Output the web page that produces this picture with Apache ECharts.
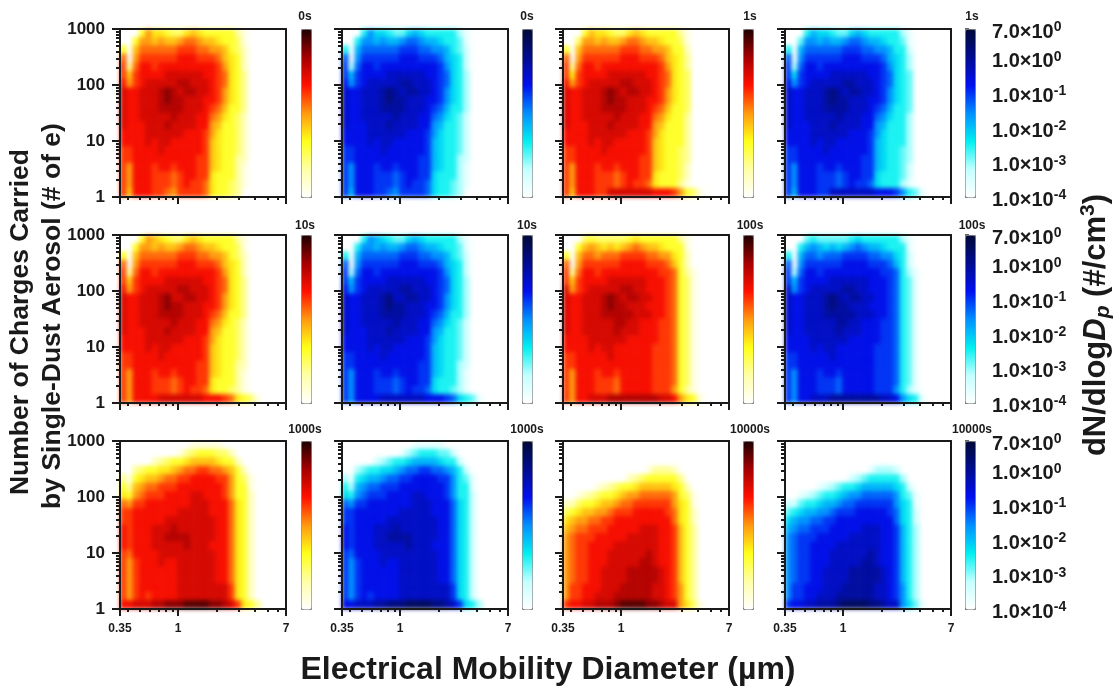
<!DOCTYPE html>
<html><head><meta charset="utf-8">
<style>html,body{margin:0;padding:0;background:#fff}#c{width:1119px;height:692px}
#c canvas[data-zr-dom-id="zr_1"]{filter:blur(2px)}</style>
<script src="https://cdn.jsdelivr.net/npm/echarts@6/dist/echarts.min.js"></script>
</head><body><div id="c"></div>
<script>
// Bin edges (diameter in um, charges)
const diameterEdges=[.35,.393,.441,.495,.555,.623,.699,.784,.880,.987,1.108,1.243,1.395,1.565,1.756,1.971,2.211,2.481,2.784,3.124,3.505,3.933,4.413,4.952,5.557,6.238,7];
const chargeEdges=[1000,707.9,501.2,354.8,251.2,177.8,125.9,89.13,63.1,44.67,31.62,22.39,15.85,11.22,7.943,5.623,3.981,2.818,1.995,1.413,1];
// Each character is a level: 0 = empty, else log10(dN/dlogDp) = -4 + 0.3*level (base 17)
const t0=["00058665446765555531","00588787789987765541","507999999aaa99887542","908aaaaaabbbaaa97652","a39bbabbbbbbbbba8652","a7abbbbccccccbba9653","b8abcccccddcccba9653","cbbcccdedcddccba8653","cbbcccdeddcccbba8653","cbbcccddddcccba97553","cbbcccccdcccbb986542","cbbbcccdccccbb875542","bbbbccccccbbba865542","bbbbcbccbbbbba765542","aabbbbcbbbbbba765542","aabbbbbbbbbbaa765532","a8bbbabbabbbaa765531","a8bbbaaa9abbaa655531","a8bbbaaa9abaa9655431","a7bbbaa98aaaa9655430"];
const t1=["00057665446765555531","00488787789987765541","507999999aaa99887552","908aaaaaabbbaaa97653","a39bbabbbbbbbbba8653","a6abbbbccccccbba9654","b8abcccccddcccba9654","cbbcccdedcddccba8654","cbbcccdeddcccbba8654","cbbcccddddcccba97554","cbbcccccdcccbb986553","cbbbcccdccccbb875553","bbbbccccccbbba865553","bbbbcbccbbbbba765553","aabbbbcbbbbbba765543","aabbbbbbbbbbaa765543","a8bbbabbabbbaa765542","a8bbbaaa9abbaa655542","a8bbbaaa9abaa9655531","a7bbbaacccccccbbba8541"];
const t10=["00058765446765555531","00588787789987765541","507999999aaa99887542","908aaaaaabbbaaa97652","a39bbabbbbbbbbba8652","a7abbbbccccccbba9653","b8abcccccddcccba9653","cbbcccdeccddccba8653","cbbcccdeddcccbba8653","cbbcccddddcccba97553","cbbcccccdcccbb986542","cbbbcccdccccbb875542","bbbbccccccbbba865542","bbbbcbccbbbbba765542","aabbbbcbbbbbba765542","aabbbbbbbbbbaa765532","a8bbbabbabbbaa765531","a8bbbaaa9abbaa655531","a8bbbaaa9abaa9655431","a8bbbbcccccccbbba96541"];
const t100=["00045444445655555531","00578767678987765551","507998999aaaa9988652","908aaaaaabbbbaaa9752","a39bbabbbbbbbbbaa9531","a7abbbbccccccbbba9541","c8abcccccddccbbba9541","cbbcccdedcddccbba9541","cbbcccdeddcccbbba9541","cbbcccdddddcccbba9541","cbbcccccddccbbbaa9541","cbbcccccdcccbbbaa9541","bbbbccccccbbbbbaa9541","bbbbcbccbbbbbbaaa9541","aabbbbbcbbbbbbaaa9541","aabbbbbbbbbbbbaaa9541","a8bbbabbabbbbbaaa9541","a8bbbaaa9bbbbbaaa9541","a8bbbaaa9bbbbbaaa8531","a8bbcccddddddddccb8651"];
const t1000=["00000000000111110","000000000134555442","0000023455677776552","003455667899aa998752","315677899aabbbbaa8541","537899aaabbbbbbba8551","6589aaabbbbccbbba8552","98aabbbbbbbcccbbb9652","aabbbbbbbcccccbbb9652","aabbbbbccccccccbb9652","babbbcccdccccccbb9652","babbbccddddccccbb9652","babbbcccccdcccbbb9652","a9bbbbcccccccccbb9652","a8abbbcbbccccccbb9652","a8abbbbbbccccccbb9652","a8abbbbbbccccccbb9652","a8abbbbbbcccccccca652","a8ababbbbcccccccca652","bbcccddeeeffffeedca653"];
const t10000=["","","","000000000000013332","0000000000234555553","00000123455677777652","001234556788999998541","22455677899aaaaaa8651","45677889aaabbbbba9652","678899aabbbbbbbbb9652","7899aaabbbbbcccbba753","89aaabbbbbcccccbba753","89aabbbbcccccccbba753","89aabbbccccccdcbba753","89aabbbcccccddcbba753","89aabbccccdddddcba753","89aabbccccdddddcba753","8aabbbcccdddddccba853","8aabbcccddddddccba853","abbccdddeffffeedcc8641"];
// Panel grid
const panelData=[[t0,t0,t1,t1],[t10,t10,t100,t100],[t1000,t1000,t10000,t10000]];
const panelTimes=[["0s","0s","1s","1s"],["10s","10s","100s","100s"],["1000s","1000s","10000s","10000s"]];
const panelLeft=[120,342,563,785], panelTop=[29,235,441], panelW=166, panelH=168;
const barLeft=[301,522,743,965];
const timeX=[305,527,750,972], timeY=[17,226,430];
const xMinor=[.4,.5,.6,.7,.8,.9,2,3,4,5,6], xMajor=[.35,1,7];
const yMinor=[2,3,4,5,6,7,8,9,20,30,40,50,60,70,80,90,200,300,400,500,600,700,800,900], yMajor=[1,10,100,1000];
const barTicks=[1e-4,1e-3,1e-2,1e-1,1,7];
const barLabels={"0.0001":["1.0×10","-4"],"0.001":["1.0×10","-3"],"0.01":["1.0×10","-2"],"0.1":["1.0×10","-1"],"1":["1.0×10","0"],"7":["7.0×10","0"]};
const hot=['#ffffff','#ffffa8','#ffff18','#ff9a10','#ff1000','#a60000','#1e0000'];
const cold=['#ffffff','#c4ffff','#00f0f0','#0090ff','#0010f0','#000c90','#000a38'];
const INK='#1a1a1a', FONT='"Liberation Sans",Arial,sans-serif';

const grid=[],xAxis=[],yAxis=[],series=[],visualMap=[],graphic=[];
function cells(rows){
  const out=[];
  rows.forEach((row,r)=>{for(let c=0;c<row.length;c++){
    const lv=parseInt(row[c],17);
    if(lv>0) out.push([diameterEdges[c],diameterEdges[c+1],chargeEdges[r],chargeEdges[r+1],-4+0.3*lv]);
  }});
  return out;
}
function renderCell(p,api){
  const a=api.coord([api.value(0),api.value(2)]), b=api.coord([api.value(1),api.value(3)]);
  const col=api.visual('color');
  return {type:'rect',shape:{x:a[0],y:a[1],width:b[0]-a[0],height:b[1]-a[1]},style:{fill:col,stroke:col,lineWidth:.7}};
}
function logAxis(g,pos,min,max,ticks,len,label,line){
  return {type:'log',logBase:10,gridIndex:g,position:pos,min,max,silent:true,zlevel:2,
    axisLine:{show:line,onZero:false,lineStyle:{color:INK,width:2}},
    axisTick:{show:ticks.length>0,customValues:ticks,length:len,lineStyle:{color:INK,width:2}},
    axisLabel:label||{show:false},
    splitLine:{show:false},minorTick:{show:false},minorSplitLine:{show:false}};
}
panelData.forEach((rowData,r)=>rowData.forEach((rows,c)=>{
  const g=grid.length, s=series.length;
  grid.push({left:panelLeft[c],top:panelTop[r],width:panelW,height:panelH,containLabel:false});
  const a=xAxis.length;
  xAxis.push(logAxis(g,'bottom',.35,7,xMajor,7,r===2?{show:true,customValues:xMajor,margin:14,fontFamily:FONT,fontWeight:'bold',fontSize:12,color:INK,hideOverlap:false,showMinLabel:true,showMaxLabel:true,formatter:v=>String(+(+v).toFixed(2))}:null,true));
  xAxis.push(logAxis(g,'bottom',.35,7,xMinor,3,null,false));
  xAxis.push(logAxis(g,'top',.35,7,[],0,null,true));
  yAxis.push(logAxis(g,'left',1,1000,yMajor,8,c===0?{show:true,customValues:yMajor,margin:15,fontFamily:FONT,fontWeight:'bold',fontSize:17,color:INK,hideOverlap:false,showMinLabel:true,showMaxLabel:true,formatter:v=>String(Math.round(v))}:null,true));
  yAxis.push(logAxis(g,'left',1,1000,yMinor,4,null,false));
  yAxis.push(logAxis(g,'right',1,1000,[],0,null,true));
  series.push({type:'custom',coordinateSystem:'cartesian2d',xAxisIndex:a,yAxisIndex:a,renderItem:renderCell,zlevel:1,
    encode:{x:[0,1],y:[2,3]},data:cells(rows),silent:true,clip:true,animation:false});
  visualMap.push({type:'continuous',seriesIndex:s,dimension:4,min:-4,max:Math.log10(7),
    left:barLeft[c],top:panelTop[r],itemWidth:10,itemHeight:panelH,padding:0,orient:'vertical',
    borderColor:'#808080',borderWidth:1,calculable:false,hoverLink:false,text:null,
    inRange:{color:c%2===0?hot:cold}});
  graphic.push({type:'text',x:timeX[c],y:timeY[r],style:{text:panelTimes[r][c],x:0,y:0,align:'center',verticalAlign:'middle',font:'bold 12px '+FONT,fill:INK}});
}));
// Colour-bar scale on the last column
panelTop.forEach(top=>{
  const g=grid.length;
  grid.push({left:barLeft[3],top:top,width:11,height:panelH});
  xAxis.push({type:'value',gridIndex:g,show:false,min:0,max:1});
  yAxis.push({type:'log',logBase:10,gridIndex:g,position:'right',min:1e-4,max:7,silent:true,
    axisLine:{show:false},splitLine:{show:false},minorTick:{show:false},
    axisTick:{show:true,inside:false,customValues:barTicks,length:4,lineStyle:{color:'#333',width:1.5}},
    axisLabel:{show:true,customValues:barTicks,margin:16,hideOverlap:false,showMinLabel:true,showMaxLabel:true,padding:[5,0,0,0],
      formatter:v=>{const k=String(+(+v).toPrecision(3));const l=barLabels[k]||["",""];return '{b|'+l[0]+'}{s|'+l[1]+'}';},
      rich:{b:{fontFamily:FONT,fontWeight:'bold',fontSize:20,color:INK,verticalAlign:'bottom',padding:[8,0,0,0],lineHeight:22},
            s:{fontFamily:FONT,fontWeight:'bold',fontSize:14,color:INK,verticalAlign:'top',lineHeight:14}}}});
});
graphic.push({type:'text',x:21,y:322,rotation:Math.PI/2,style:{text:'Number of Charges Carried',align:'center',verticalAlign:'middle',font:'bold 26.5px '+FONT,fill:INK}});
graphic.push({type:'text',x:53,y:316,rotation:Math.PI/2,style:{text:'by Single-Dust Aerosol (# of e)',align:'center',verticalAlign:'middle',font:'bold 26.5px '+FONT,fill:INK}});
graphic.push({type:'text',x:548,y:670,style:{text:'Electrical Mobility Diameter (µm)',align:'center',verticalAlign:'middle',font:'bold 32px '+FONT,fill:INK}});
graphic.push({type:'text',x:1096,y:325,rotation:Math.PI/2,style:{text:'{a|dN/dlog}{i|D}{u|p}{a| (#/cm}{t|3}{a|)}',align:'center',verticalAlign:'middle',
  rich:{a:{font:'bold 31px '+FONT,fill:INK,lineHeight:36},i:{font:'italic bold 31px '+FONT,fill:INK,lineHeight:36},
        u:{font:'italic bold 21px '+FONT,fill:INK,verticalAlign:'bottom',lineHeight:30},t:{font:'bold 21px '+FONT,fill:INK,verticalAlign:'top',lineHeight:30}}}});
const chart=echarts.init(document.getElementById('c'),null,{renderer:'canvas'});
chart.setOption({animation:false,backgroundColor:'#fff',textStyle:{fontFamily:FONT},grid,xAxis,yAxis,series,visualMap,graphic:{elements:graphic}});
</script></body></html>
